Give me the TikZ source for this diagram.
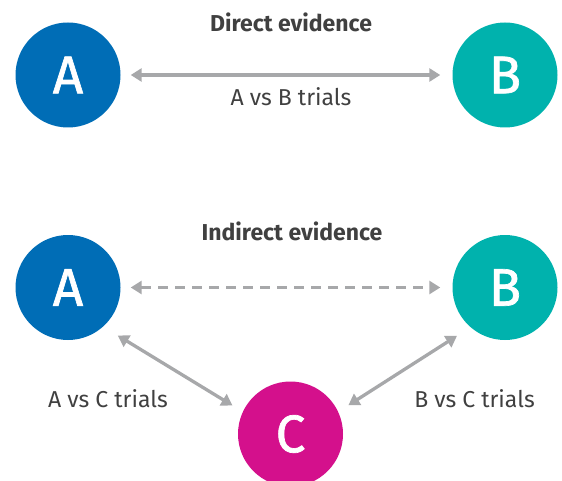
\documentclass[tikz,border=0pt]{standalone}
\usepackage{fontspec}
\setmainfont{Fira Sans}
\newfontfamily\letterfont[FakeBold=1.3]{Fira Sans}
\usetikzlibrary{arrows.meta}
\definecolor{cA}{HTML}{006DB6}
\definecolor{cB}{HTML}{00B2AD}
\definecolor{cC}{HTML}{D4108C}
\definecolor{arr}{HTML}{A7A8AA}
\definecolor{txt}{HTML}{404040}
\tikzset{
  ball/.style={circle, minimum size=105pt, inner sep=0pt, text=white,
    font=\letterfont\fontsize{53}{53}\selectfont},
  link/.style={draw=arr, line width=3.3pt,
    {Triangle[length=11pt,width=13pt]}-{Triangle[length=11pt,width=13pt]}},
  lab/.style={anchor=base, text=txt, font=\fontsize{23}{23}\selectfont},
  ttl/.style={anchor=base, text=txt, font=\fontsize{23}{23}\selectfont\bfseries},
}
\begin{document}
\begin{tikzpicture}[x=1pt,y=1pt]
\useasboundingbox (0,0) rectangle (562,480);
% direct
\node[ball, fill=cA] (A1) at (68,405) {A};
\node[ball, fill=cB] (B1) at (505,405) {B};
\node[ttl] (t1) at (291,448) {Direct evidence};
\node[lab] (l1) at (291,374) {A vs B trials};
\draw[link, shorten <=10pt, shorten >=12pt] (A1) -- (B1);
% indirect
\node[ball, fill=cA] (A2) at (68,192.5) {A};
\node[ball, fill=cB] (B2) at (505,192.5) {B};
\node[ball, fill=cC] (C) at (290.5,46) {C};
\node[ttl] (t2) at (292,240) {Indirect evidence};
\draw[link, dash pattern=on 10pt off 7pt, shorten <=10pt, shorten >=12pt] (A2) -- (B2);
\draw[link, shorten <=17pt, shorten >=12pt] (A2.-48) -- (C.155);
\draw[link, shorten <=16pt, shorten >=12pt] (B2.-131) -- (C.25);
\node[lab] (l2) at (108,72.7) {A vs C trials};
\node[lab] (l3) at (474.5,72.7) {B vs C trials};
\end{tikzpicture}
\end{document}
